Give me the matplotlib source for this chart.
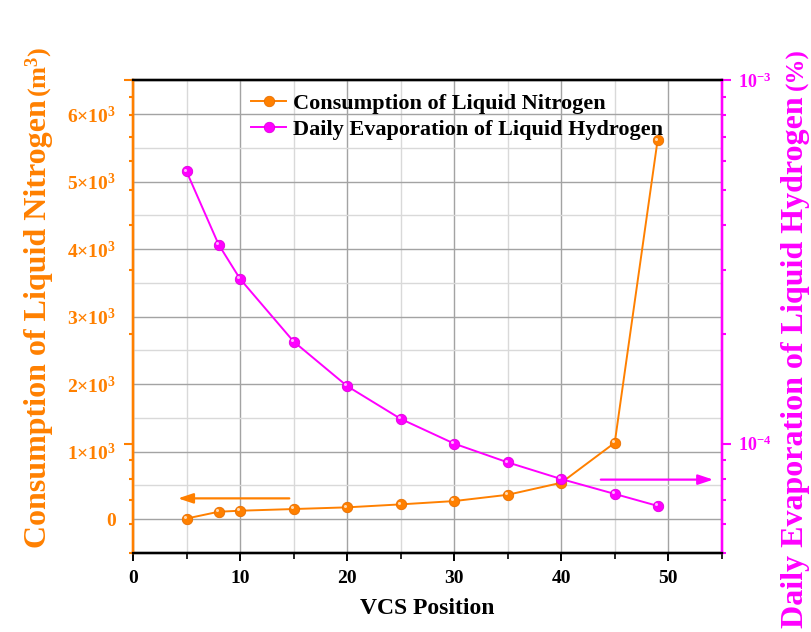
import matplotlib
matplotlib.use("Agg")
import matplotlib.pyplot as plt
import matplotlib.transforms as mtransforms
from matplotlib.ticker import MultipleLocator, FuncFormatter, LogLocator, NullFormatter

plt.rcParams.update({
    "font.family": "serif",
    "font.serif": ["Liberation Serif", "DejaVu Serif"],
    "font.weight": "bold",
    "mathtext.fontset": "custom",
    "mathtext.rm": "Liberation Serif:bold",
    "mathtext.bf": "Liberation Serif:bold",
    "mathtext.it": "Liberation Serif:bold:italic",
    "axes.linewidth": 1.6,
})

C_N2 = "#FF8000"   # orange -> liquid nitrogen, left axis
C_H2 = "#FF00FF"   # magenta -> liquid hydrogen, right axis
GRID_MAJ = "#a3a3a3"
GRID_MIN = "#d9d9d9"

# ---- data ----
vcs_pos = [5, 8, 10, 15, 20, 25, 30, 35, 40, 45, 49]
ln2_consumption = [10, 111, 126, 151, 176, 220, 269, 362, 540, 1132, 5609]
lh2_evaporation = [5.61e-4, 3.53e-4, 2.84e-4, 1.91e-4, 1.44e-4, 1.17e-4,
                   1.00e-4, 8.88e-5, 7.99e-5, 7.27e-5, 6.74e-5]
x_ticks = [0, 10, 20, 30, 40, 50]
n2_ticks = [0, 1000, 2000, 3000, 4000, 5000, 6000]
h2_ticks = [1e-4, 1e-3]
h2_tick_labels = [r"$10^{-4}$", r"$10^{-3}$"]

fig = plt.figure(figsize=(8.11, 6.32), dpi=100)
ax1 = fig.add_axes([0.164, 0.125, 0.726, 0.748])
ax2 = ax1.twinx()          # log axis, labelled on the right
ax3 = ax1.twinx()          # same log axis, ticks only on the left spine

def style_spines(ax):
    ax.spines["left"].set_color(C_N2)
    ax.spines["right"].set_color(C_H2)
    ax.spines["top"].set_color("black")
    ax.spines["bottom"].set_color("black")
    for s in ax.spines.values():
        s.set_linewidth(1.6)

for a in (ax1, ax2, ax3):
    style_spines(a)

# ---- left axis: linear nitrogen consumption ----
ax1.set_xlim(0, 55)
ax1.set_ylim(-500, 6500)
ax1.set_xticks(x_ticks)
ax1.xaxis.set_minor_locator(MultipleLocator(5))
ax1.set_yticks(n2_ticks)
ax1.yaxis.set_minor_locator(MultipleLocator(500))
ax1.yaxis.set_major_formatter(FuncFormatter(
    lambda v, p: "0" if v == 0 else "%d×10$^{3}$" % round(v / 1000)))
ax1.tick_params(axis="y", which="both", length=0, pad=12, labelsize=14, labelcolor=C_N2)
ax1.tick_params(axis="x", which="major", direction="out", length=6, width=1.4,
                pad=6, labelsize=14)
ax1.tick_params(axis="x", which="minor", direction="out", length=4, width=1.2)
ax1.grid(True, which="major", color=GRID_MAJ, lw=1.0)
ax1.grid(True, which="minor", color=GRID_MIN, lw=1.0)
ax1.set_axisbelow(True)
for lab in ax1.get_xticklabels():
    lab.set_fontweight("bold")
ax1.set_xlabel("VCS Position", fontsize=17, fontweight="bold", labelpad=8)

hl = mtransforms.offset_copy(ax1.transData, fig=fig, x=-1.3, y=1.3, units="points")
l1, = ax1.plot(vcs_pos, ln2_consumption, color=C_N2, lw=1.4, marker="o", ms=7.5,
               mfc=C_N2, mec="#E86F00", mew=0.6, label="Consumption of Liquid Nitrogen")
ax1.plot(vcs_pos, ln2_consumption, ls="none", marker="o", ms=2.2, mfc="white",
         mec="none", alpha=0.7, transform=hl)

# ---- right axis: log hydrogen evaporation ----
for a in (ax2, ax3):
    a.set_yscale("log")
    a.set_ylim(5e-5, 1e-3)
ax2.set_yticks(h2_ticks)
ax2.set_yticklabels(h2_tick_labels)
ax2.yaxis.set_minor_locator(LogLocator(base=10, subs=range(2, 10)))
ax2.yaxis.set_minor_formatter(NullFormatter())
ax2.tick_params(axis="y", which="major", direction="out", length=6.5, width=1.5,
                color=C_H2, labelcolor=C_H2, labelsize=13, pad=5)
ax2.tick_params(axis="y", which="minor", direction="out", length=3.2, width=1.5, color=C_H2)

ax3.yaxis.tick_left()
ax3.set_yticks(h2_ticks)
ax3.yaxis.set_minor_locator(LogLocator(base=10, subs=range(2, 10)))
ax3.yaxis.set_major_formatter(NullFormatter())
ax3.yaxis.set_minor_formatter(NullFormatter())
ax3.tick_params(axis="y", which="major", direction="out", length=6.5, width=1.5, color=C_N2)
ax3.tick_params(axis="y", which="minor", direction="out", length=3.2, width=1.5, color=C_N2)

hl2 = mtransforms.offset_copy(ax2.transData, fig=fig, x=-1.3, y=1.3, units="points")
l2, = ax2.plot(vcs_pos, lh2_evaporation, color=C_H2, lw=1.4, marker="o", ms=7.5,
               mfc=C_H2, mec="#E000E0", mew=0.6, label="Daily Evaporation of Liquid Hydrogen")
ax2.plot(vcs_pos, lh2_evaporation, ls="none", marker="o", ms=2.2, mfc="white",
         mec="none", alpha=0.7, transform=hl2)

# ---- direction arrows ----
ax1.annotate("", xy=(4.2, 309), xytext=(14.6, 309),
             arrowprops=dict(arrowstyle="-|>,head_length=0.9,head_width=0.3",
                             color=C_N2, lw=1.6, shrinkA=0, shrinkB=0))
ax2.annotate("", xy=(54.2, 7.96e-5), xytext=(43.7, 7.96e-5),
             arrowprops=dict(arrowstyle="-|>,head_length=0.9,head_width=0.3",
                             color=C_H2, lw=1.6, shrinkA=0, shrinkB=0))

# ---- legend ----
ax3.legend([l1, l2], [l1.get_label(), l2.get_label()], loc="upper left",
           bbox_to_anchor=(0.2, 0.972), frameon=False, borderaxespad=0, borderpad=0,
           prop={"family": "Liberation Serif", "weight": "bold", "size": 16},
           handlelength=1.6, handletextpad=0.3, labelspacing=0.22)

# ---- axis titles (two sizes each) ----
fig.text(46 / 811, 1 - 548 / 632, "Consumption of Liquid Nitrogen", rotation=90,
         rotation_mode="anchor", ha="left", va="baseline", color=C_N2,
         fontsize=23, fontweight="bold")
fig.text(46 / 811, 1 - 97 / 632, r"(m$^{3}$)", rotation=90,
         rotation_mode="anchor", ha="left", va="baseline", color=C_N2,
         fontsize=19, fontweight="bold")
fig.text(803 / 811, 1 - 628 / 632, "Daily Evaporation of Liquid Hydrogen", rotation=90,
         rotation_mode="anchor", ha="left", va="baseline", color=C_H2,
         fontsize=23, fontweight="bold")
fig.text(803 / 811, 1 - 90 / 632, "(%)", rotation=90,
         rotation_mode="anchor", ha="left", va="baseline", color=C_H2,
         fontsize=18, fontweight="bold")

fig.savefig("out.png", dpi=100, facecolor="white")
